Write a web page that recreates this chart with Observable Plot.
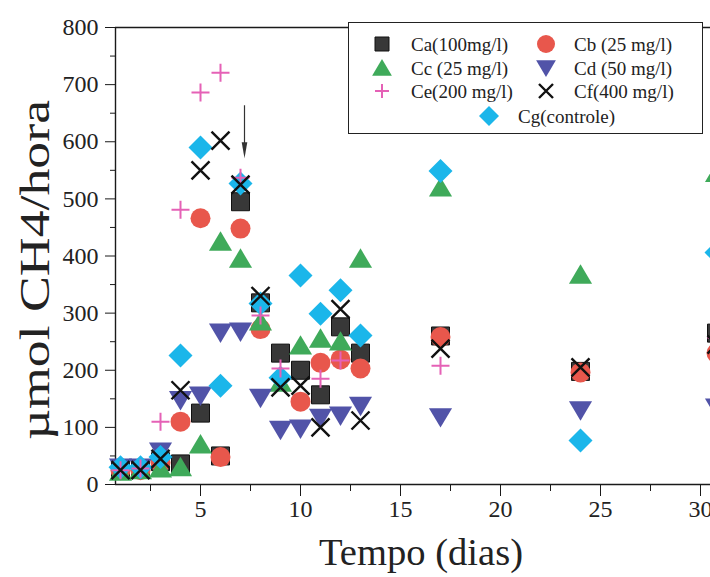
<!DOCTYPE html>
<html><head><meta charset="utf-8">
<script src="https://cdn.jsdelivr.net/npm/d3@7"></script>
<script src="https://cdn.jsdelivr.net/npm/@observablehq/plot@0.6"></script>
<style>
html,body{margin:0;padding:0;background:#fff;overflow:hidden;}
#wrap{position:relative;width:710px;height:577px;font-family:"Liberation Serif","Times New Roman",serif;}
#legend{position:absolute;left:348px;top:22px;width:355px;height:112px;border:1.5px solid #222;background:#fff;box-sizing:border-box;}
#legend svg{position:absolute;left:0;top:0;}
</style></head><body><div id="wrap"><div id="legend"></div></div>
<script>
// ---- data ----
const days = [1, 2, 3, 4, 5, 6, 7, 8, 9, 10, 11, 12, 13, 17, 24, 30.8];
const Ca = [27, 27, 40, 36, 125, 50, 495, 318, 230, 200, 157, 276, 230, 260, 198, 265];
const Cb = [25, 25, 38, 110, 466, 48, 448, 272, null, 145, 213, 219, 203, 258, 196, 230];
const Cc = [22, 25, 28, 30, 70, 425, 395, 285, 178, 243, 255, 250, 395, 520, 367, 545];
const Cd = [30, 30, 58, 148, 156, 266, 268, 152, 96, 98, 117, 121, 138, 118, 130, 135];
const Ce = [25, 28, 110, 481, 686, 721, 537, 296, 203, null, 185, 217, null, 208, null, 257];
const Cf = [25, 25, 45, 165, 550, 602, 525, 330, 170, 173, 100, 307, 112, 238, 205, 245];
const Cg = [30, 30, 48, 226, 590, 173, 527, 317, 187, 366, 299, 340, 261, 549, 77, 406];
const seriesNames = ["Ca(100mg/l)", "Cb (25 mg/l)", "Cc (25 mg/l)", "Cd (50 mg/l)", "Ce(200 mg/l)", "Cf(400 mg/l)", "Cg(controle)"];
const xTicks = [5, 10, 15, 20, 25, 30];
const yTicks = [0, 100, 200, 300, 400, 500, 600, 700, 800];
const xLabel = "Tempo (dias)";
const yLabel = "\u00b5mol CH4/hora";
const arrowX = [7.2];
const arrowTop = 663, arrowTip = 585;

// ---- symbols ----
const sym = f => ({draw(c, size) { const h = Math.sqrt(size / Math.PI); f(c, h); }});
const square = sym((c, h) => { c.rect(-h, -h, 2 * h, 2 * h); });
const circle = sym((c, h) => { c.moveTo(h, 0); c.arc(0, 0, h, 0, 2 * Math.PI); });
const triUp = sym((c, h) => { c.moveTo(0, -h); c.lineTo(1.1 * h, 0.85 * h); c.lineTo(-1.1 * h, 0.85 * h); c.closePath(); });
const triDown = sym((c, h) => { c.moveTo(0, h); c.lineTo(1.1 * h, -0.85 * h); c.lineTo(-1.1 * h, -0.85 * h); c.closePath(); });
const diamond = sym((c, h) => { c.moveTo(0, -h); c.lineTo(h, 0); c.lineTo(0, h); c.lineTo(-h, 0); c.closePath(); });
const times = sym((c, h) => { c.moveTo(-h, -h); c.lineTo(h, h); c.moveTo(h, -h); c.lineTo(-h, h); });
const plus = sym((c, h) => { c.moveTo(-h, 0); c.lineTo(h, 0); c.moveTo(0, -h); c.lineTo(0, h); });
const arrowHead = sym((c, h) => { c.moveTo(0, h); c.lineTo(0.35 * h, -h); c.lineTo(-0.35 * h, -h); c.closePath(); });

const styles = {
  Ca: {symbol: square, r: 9, fill: "#383838", stroke: "#111", strokeWidth: 1, lr: 7},
  Cb: {symbol: circle, r: 10, fill: "#e8574c", stroke: "none", lr: 9},
  Cc: {symbol: triUp, r: 10.5, fill: "#3faa5a", stroke: "none", lr: 9},
  Cd: {symbol: triDown, r: 10.5, fill: "#5153a8", stroke: "none", lr: 9},
  Ce: {symbol: plus, r: 9, fill: "none", stroke: "#e561b6", strokeWidth: 2, lr: 7},
  Cf: {symbol: times, r: 9, fill: "none", stroke: "#111", strokeWidth: 2.4, lr: 7},
  Cg: {symbol: diamond, r: 12, fill: "#1bb6ea", stroke: "none", lr: 10}
};
const seriesData = {Ca, Cb, Cc, Cd, Ce, Cf, Cg};
const drawOrder = ["Ca", "Cb", "Cc", "Cd", "Cg", "Ce", "Cf"];

const rows = key => days.map((d, i) => ({day: d, v: seriesData[key][i]})).filter(d => d.v != null);

const dotMarks = drawOrder.map(k => {
  const s = styles[k];
  return Plot.dot(rows(k), {x: "day", y: "v", symbol: s.symbol, r: s.r, fill: s.fill, stroke: s.stroke, strokeWidth: s.strokeWidth || 1});
});

const minorX = d3.range(2.5, 30.6, 5);
const minorY = d3.range(50, 800, 100);
const ink = "#1a1a1a";

const chart = Plot.plot({
  width: 710,
  height: 577,
  marginLeft: 115,
  marginRight: 0,
  marginTop: 27,
  marginBottom: 93,
  style: {fontFamily: "'Liberation Serif', 'Times New Roman', serif", background: "#fff", overflow: "hidden"},
  x: {domain: [0.75, 30.5]},
  y: {domain: [0, 800]},
  marks: [
    Plot.axisX({ticks: xTicks, tickSize: 12, tickPadding: 3, fontSize: 24, label: null, stroke: ink, color: "#222"}),
    Plot.axisX({ticks: minorX, tickSize: 7, tickFormat: () => "", label: null, stroke: ink}),
    Plot.axisY({ticks: yTicks, tickSize: 10, tickPadding: 7, fontSize: 24, label: null, stroke: ink, color: "#222"}),
    Plot.axisY({ticks: minorY, tickSize: 5, tickFormat: () => "", label: null, stroke: ink}),
    Plot.ruleY([0], {stroke: ink, strokeWidth: 1.6}),
    Plot.ruleY([800], {stroke: ink, strokeWidth: 1.4}),
    Plot.ruleX([0.75], {stroke: ink, strokeWidth: 1.4}),
    Plot.text([xLabel], {frameAnchor: "bottom", textAnchor: "middle", dx: 8, dy: 69, fontSize: 37, fill: "#222", lineAnchor: "middle"}),
    Plot.text([yLabel], {frameAnchor: "left", textAnchor: "middle", rotate: -90, dx: -80, dy: 14, fontSize: 42, fill: "#222", lineAnchor: "middle"}),
    ...dotMarks,
    Plot.ruleX(arrowX, {y1: arrowTop, y2: arrowTip + 10, stroke: "#333", strokeWidth: 1.2}),
    Plot.dot(arrowX, {x: d => d, y: () => arrowTip, symbol: arrowHead, r: 8, fill: "#333"})
  ]
});
// stretch the axis titles to the scanned lengths
d3.select(chart).selectAll("text").each(function() {
  const t = this.textContent;
  if (t === yLabel) d3.select(this).attr("textLength", 340).attr("lengthAdjust", "spacingAndGlyphs");
  if (t === xLabel) d3.select(this).attr("textLength", 204).attr("lengthAdjust", "spacingAndGlyphs");
});
document.getElementById("wrap").prepend(chart);

// ---- legend ----
const legendLayout = {
  Ca: {sx: 33, tx: 62, y: 21}, Cb: {sx: 197, tx: 225, y: 21},
  Cc: {sx: 33, tx: 62, y: 45}, Cd: {sx: 197, tx: 225, y: 45},
  Ce: {sx: 33, tx: 62, y: 68}, Cf: {sx: 197, tx: 225, y: 68},
  Cg: {sx: 140, tx: 169, y: 93}
};
const lsvg = d3.select("#legend").append("svg").attr("width", 352).attr("height", 110)
  .style("font-family", "'Liberation Serif', 'Times New Roman', serif");
["Ca", "Cb", "Cc", "Cd", "Ce", "Cf", "Cg"].forEach((k, i) => {
  const s = styles[k], L = legendLayout[k];
  const p = d3.path();
  s.symbol.draw(p, s.lr * s.lr * Math.PI);
  lsvg.append("path").attr("d", p.toString()).attr("transform", `translate(${L.sx},${L.y})`)
    .attr("fill", s.fill).attr("stroke", s.stroke).attr("stroke-width", s.strokeWidth || 1);
  lsvg.append("text").attr("x", L.tx).attr("y", L.y).attr("dy", "0.35em")
    .attr("font-size", 19).attr("fill", "#222").text(seriesNames[i]);
});
</script>
</body></html>
